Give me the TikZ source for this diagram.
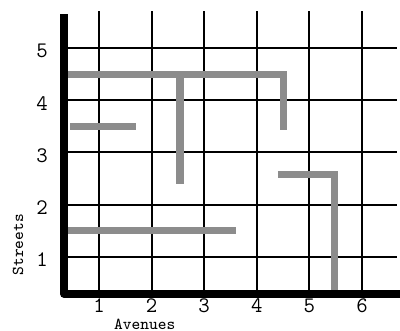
\documentclass[tikz,border=0pt]{standalone}
\usepackage{tikz}
\usetikzlibrary{positioning, calc}

\begin{document}
\begin{tikzpicture}[
    x=1cm, y=0.992cm,
    axisline/.style={line width=4.3pt, line join=round},
    gridline/.style={line width=1.1pt},
    route/.style={line width=3.8pt, draw=black!45, line join=miter},
    ticklabel/.style={font=\ttfamily\large, inner sep=0pt},
    axislabel/.style={font=\ttfamily\small, inner sep=0pt},
  ]
    \useasboundingbox (-0.882,-0.421) rectangle (6.722,5.92);

    % grid
    \foreach \i in {1,...,6}
      \draw[gridline] (\i,0.29) -- (\i,5.71);
    \foreach \j in {1,...,5}
      \draw[gridline] (0.335,\j) -- (6.67,\j);

    % blocked streets
    \draw[route] (0.41,4.5) -- (4.5,4.5) -- (4.5,3.43);
    \draw[route] (2.54,4.5) -- (2.54,2.4);
    \draw[route] (0.45,3.5) -- (1.7,3.5);
    \draw[route] (0.41,1.51) -- (3.6,1.51);
    \draw[route] (4.4,2.57) -- (5.47,2.57) -- (5.47,0.35);

    % axes
    \draw[axisline] (0.335,5.65) -- (0.335,0.29) -- (6.8,0.29);

    % labels
    \foreach \i in {1,...,6}
      \node[ticklabel] (av\i) at (\i,0.06) {\i};
    \foreach \j in {1,...,5}
      \node[ticklabel] (st\j) at (-0.08,\j-0.06) {\j};
    \node[axislabel] (avenues) at (1.87,-0.29) {Avenues};
    \node[axislabel, rotate=90] (streets) at (-0.54,1.23) {Streets};
\end{tikzpicture}
\end{document}
